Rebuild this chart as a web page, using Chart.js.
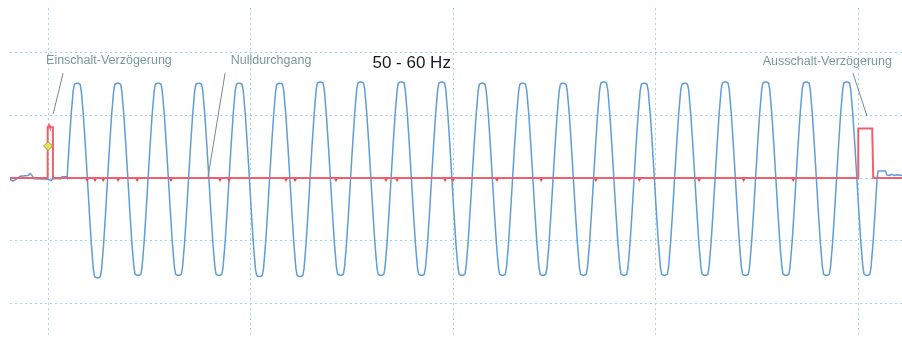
<!DOCTYPE html>
<html>
<head>
<meta charset="utf-8">
<script src="https://cdn.jsdelivr.net/npm/chart.js@4/dist/chart.umd.min.js"></script>
<style>
  html, body { margin: 0; padding: 0; background: #fff; }
  #scope { display: block; }
</style>
</head>
<body>
<canvas id="scope" width="902" height="342"></canvas>
<script>
// time in ms, amplitude in grid divisions
const gridX = [0, 100, 200, 300, 400];
const gridY = [-2, -1, 0, 1, 2];

// rising zero crossings of each mains cycle (ms)
const cycleStart = [9.4, 29.4, 49.4, 69.4, 89.4, 109.4, 129.4, 149.4, 169.4, 189.4,
                    209.4, 229.4, 249.4, 269.4, 289.4, 309.4, 329.4, 349.4, 369.4, 389.4];
const cyclePeak = [1.51, 1.51, 1.51, 1.51, 1.51, 1.51, 1.53, 1.53, 1.53, 1.53,
                   1.51, 1.51, 1.51, 1.53, 1.51, 1.51, 1.53, 1.53, 1.53, 1.53];
const cycleTrough = [-1.59, -1.55, -1.55, -1.55, -1.57, -1.57, -1.55, -1.55, -1.55, -1.55,
                     -1.55, -1.55, -1.55, -1.55, -1.55, -1.55, -1.55, -1.55, -1.55, -1.55];
// shape of one half wave (flattened top), phase in ms
const halfPhase = [0, 1, 2, 3, 3.6, 4.5, 5.5, 6.4, 7, 8, 9, 10];
const halfShape = [0, 0.35, 0.67, 0.92, 0.99, 1, 1, 0.99, 0.92, 0.67, 0.35, 0];

// blue trace before and after the burst
const blueBefore = [[-18.8, -0.02], [-17.3, -0.05], [-15.8, -0.02], [-13.8, 0.03], [-9.9, 0.04],
                    [-8.9, 0.07], [-7.9, 0.04], [-6.9, -0.01], [0, -0.02], [1.5, -0.04],
                    [2.5, -0.01], [6.4, -0.01], [6.9, 0.02], [8.9, 0.02]];
const blueAfter = [[409.9, 0.11], [413.6, 0.11], [414.2, 0.05], [415.5, 0.04], [416.5, 0.06],
                   [418, 0.04], [419.5, 0.05], [421.7, 0.04]];

// red trigger trace
const redTrace = [[-18.8, 0], [-0.2, 0], [-0.2, 0.81], [0.5, 0.84], [0.9, 0.81], [2.4, 0.81],
                  [2.4, 0], [400.1, 0], [400.1, 0.79], [407.0, 0.79], [407.5, 0], [421.7, 0]];
const redMarks = [19.3, 23.2, 27.2, 34.6, 44.0, 60.7, 84.9, 89.4, 117.5, 122.0, 142.2,
                  166.9, 172.3, 196.0, 200.0, 221.7, 243.5, 270.5, 292.0, 321.5, 343.5, 368.0];
const triggerPoint = [[0, 0.51]];

const labels = [
  { text: 'Einschalt-Verzögerung', x: -1, y: 1.82, line: [7.4, 1.67, 2.5, 1.02] },
  { text: 'Nulldurchgang', x: 90.2, y: 1.82, line: [87.4, 1.67, 79.0, 0.02] },
  { text: 'Ausschalt-Verzögerung', x: 352.9, y: 1.80, line: [397.5, 1.67, 404.4, 0.99] }
];
const title = { text: '50 - 60 Hz', x: 160.2, y: 1.75 };

const blueData = blueBefore.map(p => ({ x: p[0], y: p[1] }));
cycleStart.forEach((t0, i) => {
  halfPhase.forEach((p, k) => blueData.push({ x: t0 + p, y: halfShape[k] * cyclePeak[i] }));
  halfPhase.forEach((p, k) => {
    if (k > 0) blueData.push({ x: t0 + 10 + p, y: halfShape[k] * cycleTrough[i] });
  });
});
blueAfter.forEach(p => blueData.push({ x: p[0], y: p[1] }));

const annotations = {
  id: 'annotations',
  afterDatasetsDraw(chart) {
    const c = chart.ctx;
    const sx = chart.scales.x, sy = chart.scales.y;
    c.save();
    c.font = '12.5px "Liberation Sans", Arial, sans-serif';
    c.textBaseline = 'alphabetic';
    labels.forEach(l => {
      c.fillStyle = '#7a9a94';
      c.fillText(l.text, sx.getPixelForValue(l.x), sy.getPixelForValue(l.y));
      c.strokeStyle = '#6f8c86';
      c.lineWidth = 1;
      c.beginPath();
      c.moveTo(sx.getPixelForValue(l.line[0]), sy.getPixelForValue(l.line[1]));
      c.lineTo(sx.getPixelForValue(l.line[2]), sy.getPixelForValue(l.line[3]));
      c.stroke();
    });
    c.font = '17px "Liberation Sans", Arial, sans-serif';
    c.fillStyle = '#1a1a1a';
    c.fillText(title.text, sx.getPixelForValue(title.x), sy.getPixelForValue(title.y));
    c.restore();
  }
};

const gridOpts = {
  display: true,
  color: 'rgba(150, 210, 232, 0.9)',
  lineWidth: 1,
  drawTicks: false
};

new Chart(document.getElementById('scope').getContext('2d'), {
  type: 'line',
  data: {
    datasets: [
      {
        data: triggerPoint.map(p => ({ x: p[0], y: p[1] })),
        showLine: false,
        pointStyle: 'rectRot',
        pointRadius: 4.5,
        backgroundColor: '#f3e23a',
        borderColor: '#8a8f9a',
        borderWidth: 1,
        order: 0
      },
      {
        data: redMarks.map(t => ({ x: t, y: -0.03 })),
        showLine: false,
        pointStyle: 'triangle',
        rotation: 180,
        pointRadius: 2,
        backgroundColor: '#ee4455',
        borderColor: '#ee4455',
        borderWidth: 0,
        order: 1
      },
      {
        data: redTrace.map(p => ({ x: p[0], y: p[1] })),
        borderColor: '#f0606c',
        borderWidth: 2,
        pointRadius: 0,
        tension: 0,
        order: 2
      },
      {
        data: blueData,
        borderColor: '#5f9dd8',
        borderWidth: 1.5,
        pointRadius: 0,
        tension: 0,
        order: 3
      }
    ]
  },
  options: {
    responsive: false,
    animation: false,
    layout: { autoPadding: false, padding: { left: 10, top: 8, right: 0, bottom: 4 } },
    plugins: { legend: { display: false }, tooltip: { enabled: false } },
    scales: {
      x: {
        type: 'linear',
        min: -18.8,
        max: 421.7,
        afterBuildTicks: s => { s.ticks = gridX.map(v => ({ value: v })); },
        ticks: { display: false },
        grid: gridOpts,
        border: { display: false, dash: [2, 3] }
      },
      y: {
        type: 'linear',
        min: -2.55,
        max: 2.71,
        afterBuildTicks: s => { s.ticks = gridY.map(v => ({ value: v })); },
        ticks: { display: false },
        grid: gridOpts,
        border: { display: false, dash: [2, 3] }
      }
    }
  },
  plugins: [annotations]
});
</script>
</body>
</html>
